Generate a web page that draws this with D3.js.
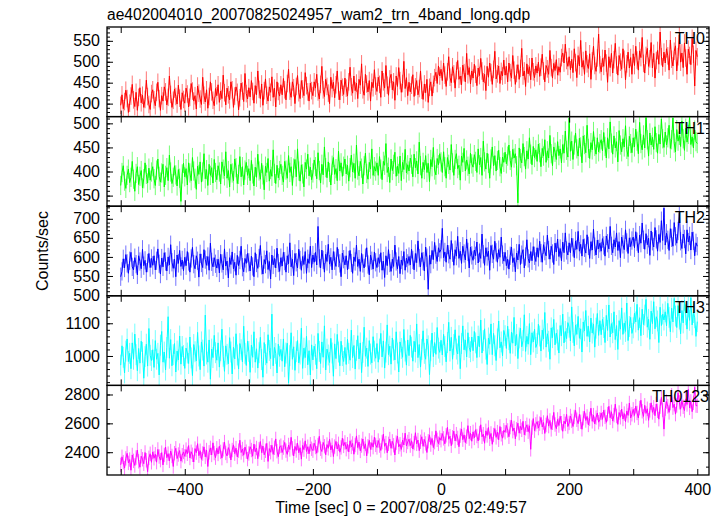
<!DOCTYPE html>
<html><head><meta charset="utf-8">
<script src="https://cdn.jsdelivr.net/npm/d3@7"></script>
<style>
body{margin:0;background:#fff}
text{font-family:"Liberation Sans",Arial,Helvetica,sans-serif;fill:#000}
</style>
</head><body>
<svg id="chart" width="724" height="516"></svg>
<script>
const chartTitle = "ae402004010_20070825024957_wam2_trn_4band_long.qdp";
const xAxisLabel = "Time [sec] 0 = 2007/08/25 02:49:57";
const yAxisLabel = "Counts/sec";
const binStart = -500, binWidth = 2;
const seriesNames = ["TH0", "TH1", "TH2", "TH3", "TH0123"];
const seriesColors = ["#ff0000", "#00ff00", "#0000ff", "#00ffff", "#ff00ff"];

const th0 = [
396,421,388,405,432,412,379,401,418,446,409,393,427,384,415,438,402,420,391,410,456,417,398,386,424,
433,409,395,427,451,412,384,419,406,440,428,397,415,466,422,391,408,435,417,399,444,413,386,426,410,
401,437,423,392,415,448,430,406,419,387,442,425,411,398,463,420,404,433,389,417,452,428,408,395,436,
419,445,403,430,412,468,426,397,437,421,409,452,433,391,418,440,427,385,414,449,430,405,472,424,411,
438,416,455,429,401,443,421,478,434,412,447,396,431,459,420,406,440,427,464,415,437,392,452,429,418,
445,421,460,433,409,448,482,430,415,452,438,400,441,467,426,412,455,435,419,474,443,428,406,449,431,
419,452,437,470,428,411,446,489,433,417,458,441,425,400,463,436,451,414,445,478,430,409,456,439,422,
461,437,418,452,487,440,425,466,431,449,412,458,444,495,433,420,470,447,428,455,406,451,438,481,442,
429,463,446,415,478,452,437,491,444,420,459,470,433,452,408,466,441,486,455,427,448,501,436,462,419,
451,428,444,469,417,440,455,421,436,478,432,410,447,426,458,403,439,452,418,446,462,475,448,490,466,
482,455,497,468,441,476,512,463,450,488,471,437,479,503,458,466,445,492,474,452,520,469,486,447,478,
461,494,470,443,485,467,508,478,452,470,431,489,463,497,474,446,482,525,459,471,490,448,477,466,504,
468,489,452,497,474,461,515,480,446,472,493,458,484,532,466,478,441,495,471,488,457,509,476,462,490,
473,499,465,487,518,478,452,491,483,470,527,486,461,496,479,505,468,488,475,510,521,497,542,503,489,
512,481,506,474,531,498,462,515,490,551,487,503,470,526,495,484,519,458,502,537,491,477,509,566,493,
476,508,489,528,497,451,512,486,520,473,505,544,492,468,515,499,482,531,506,457,495,523,485,510,470,
519,491,537,504,480,526,510,558,496,473,515,532,489,507,546,485,520,461,503,527,494,571,512,488,523,
497,531,514,480,552,506,490,525,538,478,512,564,499,521,486,545,509,470,530,515,493,556,518,442,527,
512];

const th1 = [
371,398,412,380,365,392,405,377,388,421,384,359,396,410,373,390,402,366,385,418,394,376,407,382,399,
410,385,371,403,426,390,378,397,415,368,392,408,381,434,399,375,388,412,393,370,404,386,338,395,417,
389,406,372,418,397,381,429,401,386,363,411,394,420,378,399,437,385,404,371,415,392,408,376,425,398,
383,412,399,374,420,405,391,441,386,402,368,415,397,381,426,408,375,394,431,389,410,372,403,419,392,
406,381,423,395,370,409,388,436,401,384,417,393,362,411,398,427,380,404,390,445,396,375,413,387,402,
415,392,378,421,403,386,433,398,410,371,407,425,389,447,401,380,414,395,368,419,405,436,391,409,383,
397,424,410,385,439,402,376,415,393,451,408,387,420,398,372,413,429,394,406,381,442,401,418,390,411,
426,395,413,380,408,434,399,417,386,455,403,391,421,407,374,412,438,396,384,419,405,447,392,410,401,
418,392,431,405,383,421,413,458,398,409,377,426,402,415,440,390,411,396,432,381,419,404,446,397,414,
401,428,415,389,436,408,422,395,461,412,386,419,404,433,398,417,379,425,410,450,403,393,427,414,437,
420,398,441,410,386,429,415,403,456,418,392,425,437,406,413,382,432,419,448,401,424,411,395,438,416,
409,435,421,398,447,414,429,392,463,420,405,438,417,386,426,451,412,433,401,423,444,410,396,430,419,
440,416,432,455,423,409,446,428,437,412,335,449,427,418,458,431,405,443,426,470,436,414,452,429,445,
421,457,439,410,448,432,466,419,443,428,475,437,412,451,440,425,462,433,447,418,456,438,484,444,430,
511,442,463,425,455,480,447,432,469,451,418,474,456,439,496,448,427,460,445,483,452,436,470,441,458,
466,443,481,452,428,470,447,503,459,436,474,449,462,420,485,455,441,468,451,495,446,431,473,458,439,
470,451,488,463,437,502,458,445,476,449,512,466,432,480,455,471,446,493,460,438,477,457,509,468,450,
482,455,470,496,448,466,511,459,441,487,463,475,452,505,468,444,490,461,477,513,456,472,449,486,462,
458];

const th2 = [
548,562,595,571,606,583,557,590,612,574,566,598,581,553,603,588,569,620,577,591,560,584,609,572,596,
578,603,566,590,621,582,555,597,574,611,588,563,600,579,632,586,570,594,548,605,583,617,575,592,564,
599,577,614,588,560,596,625,581,569,603,590,547,608,584,572,619,593,578,601,565,636,587,574,598,582,
571,594,558,607,583,566,621,576,589,545,598,580,613,569,586,552,604,577,592,628,573,561,596,583,609,
586,563,602,575,548,611,584,570,597,630,578,555,593,581,616,567,588,542,605,579,596,571,623,584,562,
598,576,612,589,560,603,582,637,574,594,551,609,586,571,620,592,565,601,580,614,557,595,583,628,572,
605,586,612,579,680,596,571,618,592,560,607,588,633,581,599,566,614,590,575,625,597,583,548,610,594,
579,603,566,592,617,584,557,600,588,631,575,594,562,609,583,571,598,624,580,553,605,590,568,613,586,
572,598,583,611,565,589,546,603,577,619,584,562,594,575,631,588,569,601,556,592,578,614,565,597,583,
601,579,620,592,566,609,585,642,597,574,611,589,563,626,598,515,604,581,617,593,638,606,588,624,612,
620,675,598,613,586,631,607,594,643,611,578,619,602,654,596,615,583,628,609,592,647,613,571,626,604,
591,618,603,639,584,611,596,660,607,578,624,601,615,565,630,608,594,641,612,586,619,599,652,606,589,
612,577,594,568,603,626,585,598,561,610,592,633,580,606,619,571,601,645,596,584,614,590,627,603,588,
624,599,641,610,586,632,615,603,657,618,594,628,609,580,636,613,647,601,622,590,639,611,663,617,605,
637,611,649,625,598,642,620,667,615,633,602,646,624,610,658,629,596,640,618,673,627,605,644,621,636,
615,648,630,602,655,636,621,680,629,611,645,626,663,617,640,598,652,633,619,671,638,609,650,627,643,
652,624,666,640,611,657,636,689,645,620,661,632,649,604,668,641,626,677,646,615,659,638,695,643,728,
631,662,645,617,674,650,628,690,654,636,668,716,641,622,660,647,608,671,639,655,618,665,642,603,637,
628];

const th3 = [
972,1031,996,948,1015,1052,983,1008,961,1040,990,1067,1004,955,1023,978,1045,1011,932,998,1036,969,1084,1002,986,
1019,965,1047,990,1008,942,1033,1075,981,1012,957,1026,1120,993,1050,970,1004,1038,951,1015,988,1061,975,1029,1001,
962,1024,1009,977,1058,994,940,1035,1013,985,1072,1000,958,1043,1018,969,1125,1006,981,1049,929,1021,995,1063,1010,
987,1040,966,1016,1082,999,953,1031,1005,976,1056,1012,945,1027,991,1068,1003,960,1038,1019,982,1091,1008,971,1045,
1014,950,1033,996,1074,981,1022,963,1010,1057,989,935,1041,1004,978,1065,1017,992,1128,970,1026,1008,948,1036,999,
1020,984,1052,967,1009,1039,918,1001,1071,990,1028,956,1013,1047,979,1006,1085,962,1024,995,1060,973,1016,942,1034,
988,1030,1005,961,1069,1014,977,1043,996,1092,957,1021,1003,980,1054,1009,938,1037,992,1066,1012,970,1045,1001,983,
1026,974,1051,1008,987,1079,995,1032,960,1017,1062,991,1040,949,1011,1088,999,1024,968,1047,1006,979,1059,1015,993,
1038,981,1021,1069,997,1046,963,1012,1095,1004,1030,975,1055,1018,988,1074,1009,951,1043,1023,996,1081,1015,972,1049,
1001,1063,1027,984,1045,1012,1098,995,1035,966,1020,1077,1008,990,1052,1031,943,1016,1070,998,1041,1005,1087,1024,1011,
1048,1003,1066,1029,982,1041,1103,1015,1057,990,1035,1080,1021,1006,1062,961,1038,1092,1019,1049,997,1071,1026,1013,1058,
1016,1075,1040,995,1061,1028,1110,1009,1047,1083,1021,974,1055,1036,1098,1004,1069,1031,986,1052,1107,1025,1043,1000,1078,
1062,1023,1091,1050,1008,1073,1039,1118,1031,1066,992,1055,1085,1028,1047,1126,1014,1060,1036,1099,1004,1071,1043,1082,1026,
1038,1097,1061,1015,1079,1052,1133,1027,1068,1045,990,1086,1056,1112,1034,1070,1049,1009,1093,1062,1128,1040,1075,1053,1102,
1088,1046,1150,1072,1031,1095,1066,1121,1054,1083,1012,1104,1077,1139,1060,1091,1043,1116,1070,1098,1027,1085,1130,1063,1108,
1065,1112,1087,1041,1124,1078,1156,1058,1099,1071,1135,1050,1093,1020,1108,1082,1147,1066,1101,1075,1162,1047,1090,1118,1069,
1086,1131,1104,1158,1079,1117,1062,1143,1096,1125,1173,1088,1112,1051,1137,1099,1166,1083,1120,1107,1041,1149,1093,1128,1110,
1135,1092,1161,1118,1074,1146,1104,1176,1122,1087,1154,1113,1068,1139,1101,1170,1126,1082,1150,1109,1178,1095,1133,1117,1060,
1105];

const th0123 = [
2312,2368,2331,2290,2357,2392,2326,2349,2275,2381,2340,2308,2363,2415,2337,2296,2372,2351,2320,2398,2344,2265,2361,2389,2330,
2402,2358,2386,2331,2419,2370,2345,2397,2312,2381,2436,2362,2390,2340,2408,2374,2301,2393,2427,2356,2384,2411,2338,2379,2402,
2371,2418,2389,2446,2360,2403,2382,2332,2425,2397,2459,2376,2410,2350,2391,2437,2368,2415,2301,2399,2430,2381,2465,2394,2362,
2427,2388,2441,2402,2359,2420,2470,2395,2374,2432,2409,2346,2415,2451,2390,2428,2367,2411,2483,2398,2422,2379,2436,2404,2352,
2391,2438,2415,2372,2456,2403,2429,2355,2420,2474,2397,2443,2382,2410,2461,2336,2425,2400,2448,2385,2431,2492,2407,2369,2436,
2445,2398,2432,2468,2411,2385,2450,2419,2503,2427,2374,2440,2412,2463,2396,2431,2352,2447,2418,2479,2405,2438,2389,2455,2424,
2411,2462,2436,2393,2449,2510,2424,2405,2468,2441,2382,2453,2427,2489,2416,2447,2370,2439,2475,2422,2458,2400,2433,2497,2444,
2468,2421,2455,2402,2479,2437,2461,2386,2450,2513,2432,2470,2409,2446,2492,2425,2458,2375,2441,2482,2419,2466,2435,2504,2451,
2433,2481,2446,2412,2470,2525,2441,2463,2396,2458,2491,2427,2475,2448,2381,2466,2512,2437,2455,2419,2484,2450,2532,2443,2471,
2490,2446,2479,2422,2463,2535,2458,2484,2411,2472,2507,2441,2488,2461,2398,2476,2520,2453,2495,2432,2470,2548,2486,2459,2501,
2483,2529,2496,2458,2517,2572,2490,2511,2445,2503,2546,2478,2525,2499,2438,2515,2561,2487,2520,2466,2508,2584,2494,2532,2476,
2541,2499,2556,2512,2478,2533,2590,2507,2525,2462,2548,2516,2571,2493,2530,2455,2519,2564,2503,2539,2486,2578,2524,2497,2552,
2538,2585,2551,2507,2574,2622,2546,2568,2493,2559,2601,2532,2579,2555,2614,2521,2566,2590,2542,2583,2420,2571,2633,2549,2593,
2612,2567,2598,2641,2575,2606,2530,2589,2653,2581,2620,2558,2604,2676,2592,2563,2627,2585,2649,2601,2545,2615,2596,2662,2578,
2603,2651,2617,2578,2644,2690,2625,2598,2662,2611,2559,2636,2683,2620,2648,2589,2631,2705,2614,2657,2596,2640,2672,2608,2627,
2672,2628,2691,2645,2607,2664,2718,2639,2680,2616,2657,2733,2651,2593,2675,2642,2699,2630,2668,2612,2686,2655,2741,2637,2663,
2697,2655,2719,2672,2638,2706,2760,2684,2648,2725,2669,2701,2621,2690,2742,2676,2711,2653,2734,2687,2629,2716,2780,2693,2560,
2702,2751,2718,2676,2740,2795,2709,2733,2664,2724,2812,2746,2698,2758,2715,2689,2770,2731,2835,2707,2752,2681,2742,2850,2723,
2722];

const seriesValues = [th0, th1, th2, th3, th0123];
const seriesErrors = [21, 20, 24, 32, 50];
const xDomain = [-521.4, 418.3];
const xTickValues = [-400, -200, 0, 200, 400];
const xMinorTicks = [-500, -400, -300, -200, -100, 0, 100, 200, 300, 400];
const yDomains = [[369, 583], [328, 514], [498, 733], [910, 1184], [2242, 2863]];
const yMajorTicks = [[400, 450, 500, 550], [350, 400, 450, 500], [500, 550, 600, 650, 700], [1000, 1100], [2400, 2600, 2800]];
const yMinorSteps = [10, 10, 10, 20, 100];

// layout
const pL = 107, pR = 709, pT = 27, pB = 475;
const nP = seriesNames.length;
const pH = (pB - pT) / nP;
const svg = d3.select("#chart");
const fs = 16;
const fontFam = '"Liberation Sans",Arial,sans-serif';

const x = d3.scaleLinear().domain(xDomain).range([pL, pR]);

svg.append("text").attr("x", pL).attr("y", 20).attr("font-size", 15.6).text(chartTitle);

seriesNames.forEach((name, i) => {
  const y0 = pT + i * pH, y1 = y0 + pH;
  const y = d3.scaleLinear().domain(yDomains[i]).range([y1, y0]);
  const vals = seriesValues[i];
  const times = vals.map((v, k) => binStart + k * binWidth);
  const err = seriesErrors[i];

  const clipId = "clip" + i;
  svg.append("clipPath").attr("id", clipId).append("rect")
    .attr("x", pL).attr("y", y0).attr("width", pR - pL).attr("height", pH);
  const g = svg.append("g").attr("clip-path", `url(#${clipId})`);

  g.selectAll("line.err").data(vals).join("line")
    .attr("class", "err")
    .attr("x1", (d, k) => x(times[k])).attr("x2", (d, k) => x(times[k]))
    .attr("y1", d => y(d - err)).attr("y2", d => y(d + err))
    .attr("stroke", seriesColors[i]).attr("stroke-opacity", 0.55).attr("stroke-width", 1);

  g.append("path").datum(vals)
    .attr("d", d3.line().x((d, k) => x(times[k])).y(d => y(d)))
    .attr("fill", "none").attr("stroke", seriesColors[i]).attr("stroke-width", 1);

  const [lo, hi] = yDomains[i];
  const step = yMinorSteps[i];
  const minor = d3.range(Math.ceil(lo / step) * step, hi + 0.001, step);
  const yl = svg.append("g").attr("transform", `translate(${pL},0)`)
    .call(d3.axisLeft(y).tickValues(yMajorTicks[i]).tickSize(-6).tickPadding(7).tickFormat(d3.format("d")));
  yl.select(".domain").remove();
  yl.selectAll("text").attr("font-size", fs).attr("font-family", fontFam).attr("fill", "#000");
  const ylm = svg.append("g").attr("transform", `translate(${pL},0)`)
    .call(d3.axisLeft(y).tickValues(minor).tickSize(-3).tickFormat(""));
  ylm.select(".domain").remove();
  const yr = svg.append("g").attr("transform", `translate(${pR},0)`)
    .call(d3.axisRight(y).tickValues(yMajorTicks[i]).tickSize(-6).tickFormat(""));
  yr.select(".domain").remove();
  const yrm = svg.append("g").attr("transform", `translate(${pR},0)`)
    .call(d3.axisRight(y).tickValues(minor).tickSize(-3).tickFormat(""));
  yrm.select(".domain").remove();

  const xt = svg.append("g").attr("transform", `translate(0,${y0})`)
    .call(d3.axisTop(x).tickValues(xMinorTicks).tickSize(-6).tickFormat(""));
  xt.select(".domain").remove();
  const xb = svg.append("g").attr("transform", `translate(0,${y1})`)
    .call(d3.axisBottom(x).tickValues(xMinorTicks).tickSize(-6).tickFormat(""));
  xb.select(".domain").remove();

  svg.append("rect").attr("x", pL).attr("y", y0).attr("width", pR - pL).attr("height", pH)
    .attr("fill", "none").attr("stroke", "#000").attr("stroke-width", 1.3);

  svg.append("text").attr("x", i === nP - 1 ? 709 : 705).attr("y", y0 + 17)
    .attr("text-anchor", "end").attr("font-size", fs).text(name);
});

const xa = svg.append("g").attr("transform", `translate(0,${pB})`)
  .call(d3.axisBottom(x).tickValues(xTickValues).tickSize(0).tickPadding(9));
xa.select(".domain").remove();
xa.selectAll("text").attr("font-size", fs).attr("font-family", fontFam).attr("fill", "#000");

svg.append("text").attr("x", 401).attr("y", 513).attr("text-anchor", "middle")
  .attr("font-size", fs).text(xAxisLabel);
svg.append("text").attr("transform", "translate(48,251) rotate(-90)").attr("text-anchor", "middle")
  .attr("font-size", fs).text(yAxisLabel);
</script>
</body></html>
